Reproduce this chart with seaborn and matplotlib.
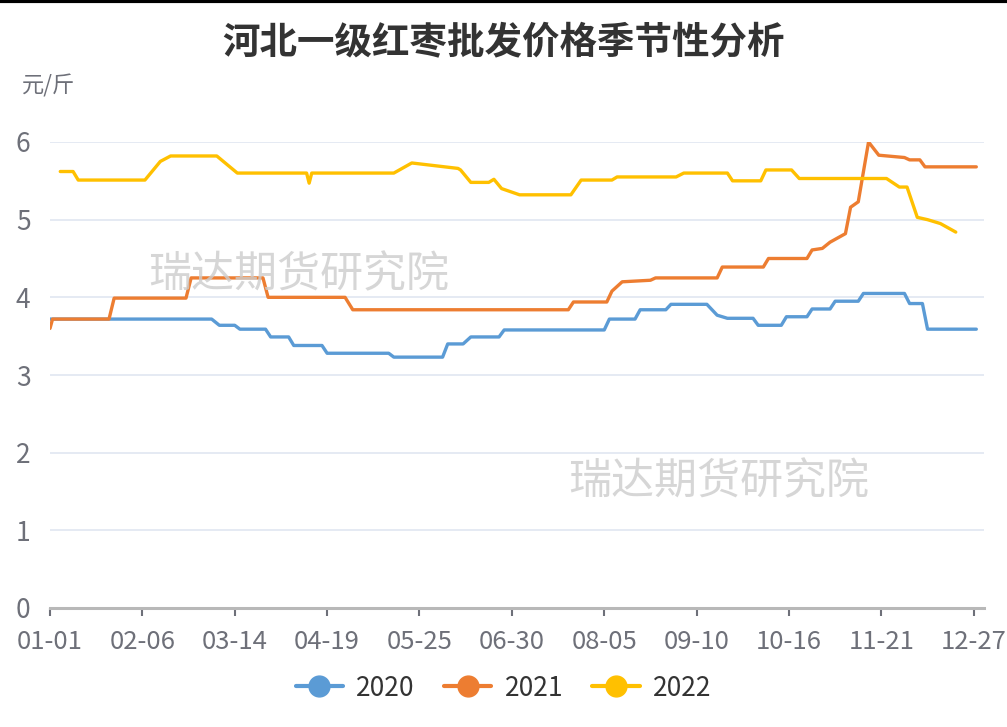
import pandas as pd
import matplotlib.pyplot as plt
import seaborn as sns
from matplotlib.lines import Line2D

# breakpoints of the step-like price series (元/斤)
dates_2020 = ['01-01', '03-05', '03-08', '03-14', '03-16', '03-26', '03-28', '04-04', '04-06',
              '04-17', '04-19', '05-13', '05-15', '06-03', '06-05', '06-11', '06-14', '06-25',
              '06-27', '08-05', '08-07', '08-17', '08-19', '08-29', '08-31', '09-14', '09-18',
              '09-22', '10-02', '10-04', '10-13', '10-15', '10-23', '10-25', '11-01', '11-03',
              '11-12', '11-14', '11-30', '12-02', '12-07', '12-09', '12-28']
price_2020 = [3.72, 3.72, 3.64, 3.64, 3.59, 3.59, 3.49, 3.49, 3.38,
              3.38, 3.28, 3.28, 3.23, 3.23, 3.40, 3.40, 3.49, 3.49,
              3.58, 3.58, 3.72, 3.72, 3.84, 3.84, 3.91, 3.91, 3.77,
              3.73, 3.73, 3.64, 3.64, 3.75, 3.75, 3.85, 3.85, 3.95,
              3.95, 4.05, 4.05, 3.92, 3.92, 3.59, 3.59]

dates_2021 = ['01-01', '01-02', '01-24', '01-26', '02-23', '02-25', '03-25', '03-27', '04-26',
              '04-29', '07-22', '07-24', '08-06', '08-08', '08-12', '08-23', '08-25', '09-18',
              '09-20', '10-06', '10-08', '10-23', '10-25', '10-29', '11-01', '11-07', '11-09',
              '11-12', '11-16', '11-20', '11-30', '12-02', '12-06', '12-08', '12-28']
price_2021 = [3.60, 3.72, 3.72, 3.99, 3.99, 4.25, 4.25, 4.00, 4.00,
              3.84, 3.84, 3.94, 3.94, 4.08, 4.20, 4.22, 4.25, 4.25,
              4.39, 4.39, 4.50, 4.50, 4.61, 4.63, 4.71, 4.82, 5.16,
              5.23, 6.00, 5.83, 5.80, 5.77, 5.77, 5.68, 5.68]

dates_2022 = ['01-05', '01-10', '01-12', '02-07', '02-13', '02-17', '03-07', '03-15', '04-11',
              '04-12', '04-13', '05-15', '05-22', '06-09', '06-10', '06-14', '06-21', '06-23',
              '06-26', '07-03', '07-23', '07-27', '08-08', '08-10', '09-02', '09-05', '09-22',
              '09-24', '10-05', '10-07', '10-17', '10-20', '11-23', '11-28', '12-01', '12-05',
              '12-09', '12-14', '12-20']
price_2022 = [5.62, 5.62, 5.51, 5.51, 5.75, 5.82, 5.82, 5.60, 5.60,
              5.47, 5.60, 5.60, 5.73, 5.66, 5.64, 5.48, 5.48, 5.52,
              5.40, 5.32, 5.32, 5.51, 5.51, 5.55, 5.55, 5.60, 5.60,
              5.50, 5.50, 5.64, 5.64, 5.53, 5.53, 5.42, 5.42, 5.03,
              5.00, 4.95, 4.84]

years = ['2020', '2021', '2022']
tick_labels = ['01-01', '02-06', '03-14', '04-19', '05-25', '06-30',
               '08-05', '09-10', '10-16', '11-21', '12-27']
colors = ['#5b9bd5', '#ed7d31', '#ffc000']


def day_index(mmdd):
    # position on the shared month-day axis (non-leap calendar)
    return pd.Timestamp('2021-' + mmdd).dayofyear - 1


frames = []
for yr, d, p in zip(years, [dates_2020, dates_2021, dates_2022],
                    [price_2020, price_2021, price_2022]):
    frames.append(pd.DataFrame({'day': [day_index(s) for s in d], 'price': p, 'year': yr}))
df = pd.concat(frames, ignore_index=True)

sns.set_style('white')
plt.rcParams['font.family'] = ['Noto Sans CJK SC', 'DejaVu Sans']

fig = plt.figure(figsize=(10.07, 7.27), dpi=100)
ax = fig.add_axes([50 / 1007, 119 / 727, 934 / 1007, 466 / 727])

sns.lineplot(data=df, x='day', y='price', hue='year', palette=colors,
             estimator=None, linewidth=2.4, legend=False, ax=ax)

ax.set_xlim(0, day_index('12-31'))
ax.set_ylim(0, 6)
ax.set_yticks(range(7))
ax.set_xticks([day_index(s) for s in tick_labels])
ax.set_xticklabels(tick_labels)
ax.set_xlabel('')
ax.set_ylabel('')
ax.grid(axis='y', color='#e0e6f1', linewidth=1.2)
ax.set_axisbelow(True)
for side in ['top', 'right', 'left']:
    ax.spines[side].set_visible(False)
ax.spines['bottom'].set_color('#b8b8b8')
ax.spines['bottom'].set_linewidth(2.2)
ax.tick_params(axis='x', colors='#6e7079', labelsize=18.5, length=6, width=1.5,
               direction='out', pad=9, bottom=True)
ax.tick_params(axis='y', colors='#6e7079', labelsize=19, length=0, pad=14)
for lab in ax.get_xticklabels() + ax.get_yticklabels():
    lab.set_color('#6e7079')

fig.text(0.5, 0.943, '河北一级红枣批发价格季节性分析', ha='center', va='center',
         fontsize=27, fontweight='bold', color='#333333')
fig.text(22 / 1007, 1 - 86 / 727, '元/斤', ha='left', va='center', fontsize=16,
         color='#6e7079')

# watermark
for x, y in [(148, 275), (568, 482)]:
    fig.text(x / 1007, 1 - y / 727, '瑞达期货研究院', ha='left', va='center', fontsize=31,
             color='#cccccc', alpha=0.8, fontweight='light')

handles = [Line2D([0], [0], color=c, linewidth=3, marker='o', markersize=15) for c in colors]
fig.legend(handles, years, loc='center', bbox_to_anchor=(0.5, 1 - 688 / 727), ncol=3,
           frameon=False, fontsize=19, handlelength=1.8, handletextpad=0.5,
           columnspacing=1.1, labelcolor='#333333')

fig.add_artist(Line2D([0, 1], [0.999, 0.999], transform=fig.transFigure, color='black', linewidth=3))

fig.savefig('out.png', dpi=100)
